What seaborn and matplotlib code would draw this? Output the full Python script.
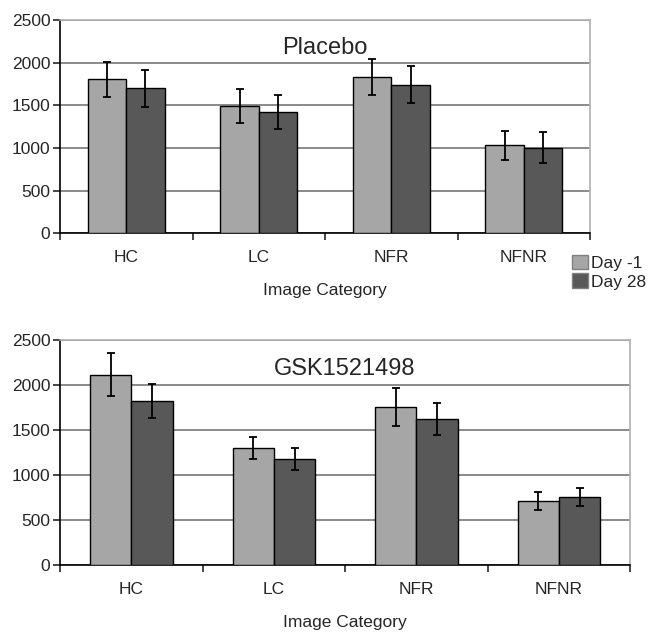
import pandas as pd
import numpy as np
import matplotlib
matplotlib.use("Agg")
import matplotlib.pyplot as plt
import seaborn as sns

categories = ["HC", "LC", "NFR", "NFNR"]
days = ["Day -1", "Day 28"]

placebo_day1 = [1805, 1490, 1830, 1030]
placebo_day28 = [1700, 1420, 1745, 1005]
placebo_err1 = [210, 200, 210, 165]
placebo_err28 = [215, 200, 215, 185]

gsk_day1 = [2115, 1300, 1757, 710]
gsk_day28 = [1823, 1180, 1625, 755]
gsk_err1 = [240, 122, 207, 100]
gsk_err28 = [185, 122, 180, 100]

yticks = [0, 500, 1000, 1500, 2000, 2500]

colors = ["#a6a6a6", "#585858"]

sns.set_style("white")
plt.rcParams['font.family'] = ['Liberation Sans', 'DejaVu Sans']


def make_df(v1, v28):
    return pd.DataFrame({
        "category": categories * 2,
        "day": [days[0]] * 4 + [days[1]] * 4,
        "value": list(v1) + list(v28),
    })


def draw_panel(ax, v1, v28, e1, e28, title):
    df = make_df(v1, v28)
    sns.barplot(data=df, x="category", y="value", hue="day", order=categories,
                hue_order=days, palette=colors, width=0.58, edgecolor="black",
                linewidth=1.0, ax=ax, legend=False, zorder=3)
    for cont, errs in zip(ax.containers, [e1, e28]):
        xs = [b.get_x() + b.get_width() / 2 for b in cont]
        hs = [b.get_height() for b in cont]
        ax.errorbar(xs, hs, yerr=errs, fmt="none", ecolor="black",
                    elinewidth=1.3, capsize=3, capthick=1.3, zorder=4)
    ax.set_ylim(0, 2500)
    ax.set_xlim(-0.5, 3.5)
    ax.set_yticks(yticks)
    ax.yaxis.grid(True, color="#8a8a8a", linewidth=1.4, zorder=0)
    ax.set_axisbelow(True)
    for s in ["top", "right"]:
        ax.spines[s].set_color("#b0b0b0")
        ax.spines[s].set_linewidth(1.2)
    for s in ["left", "bottom"]:
        ax.spines[s].set_color("black")
        ax.spines[s].set_linewidth(1.2)
    ax.tick_params(axis="y", direction="out", length=5, width=1.2,
                   labelsize=12.5, left=True, pad=2)
    ax.tick_params(axis="x", which="major", length=0, labelsize=12.5, pad=12)
    ax.set_xticks(np.arange(-0.5, 4.0, 1.0), minor=True)
    ax.tick_params(axis="x", which="minor", direction="out", length=5,
                   width=1.2, bottom=True)
    ax.set_xlabel("Image Category", fontsize=12.5, labelpad=13)
    ax.set_ylabel("")
    ax.text(0.5, 0.87, title, transform=ax.transAxes, ha="center",
            va="center", fontsize=17)


fig = plt.figure(figsize=(6.48, 6.32), dpi=100)
ax1 = fig.add_axes([0.0926, 0.631, 0.818, 0.337])
ax2 = fig.add_axes([0.0926, 0.106, 0.880, 0.356])

draw_panel(ax1, placebo_day1, placebo_day28, placebo_err1, placebo_err28, "Placebo")
draw_panel(ax2, gsk_day1, gsk_day28, gsk_err1, gsk_err28, "GSK1521498")

handles = [plt.Rectangle((0, 0), 1, 1, facecolor=c, edgecolor="#808080") for c in colors]
fig.legend(handles, days, loc="upper left", bbox_to_anchor=(0.872, 0.608),
           frameon=False, handlelength=0.9, handleheight=0.9,
           handletextpad=0.2, labelspacing=0.15, borderaxespad=0,
           prop={"size": 12.5})

fig.savefig("out.png", dpi=100)
